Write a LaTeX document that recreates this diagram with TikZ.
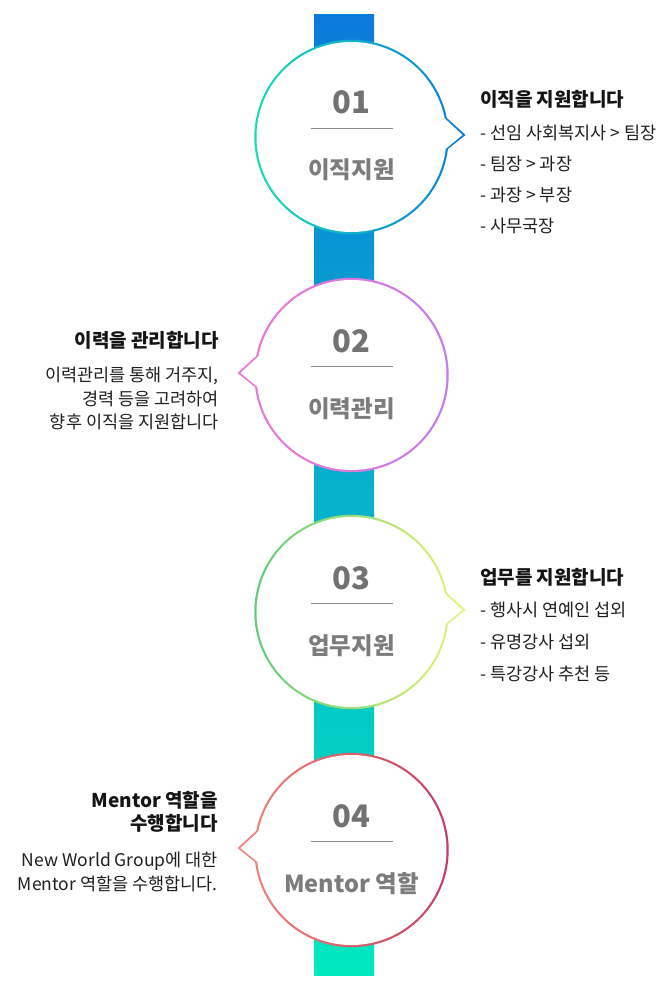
\documentclass[tikz,border=0pt]{standalone}
\usepackage{fontspec}
\setmainfont{Noto Sans CJK KR}
\usepackage{tikz}
\definecolor{barTop}{HTML}{0B7BDA}
\definecolor{barMid}{HTML}{00AACE}
\definecolor{barBot}{HTML}{00E9BF}
\definecolor{oneL}{HTML}{18E0B6}
\definecolor{oneR}{HTML}{0A7CDB}
\definecolor{twoL}{HTML}{EE78CF}
\definecolor{twoR}{HTML}{C47AEE}
\definecolor{threeL}{HTML}{5CCB78}
\definecolor{threeR}{HTML}{E8F47A}
\definecolor{fourL}{HTML}{F4887A}
\definecolor{fourR}{HTML}{C23A62}
\definecolor{numGray}{HTML}{727272}
\definecolor{labGray}{HTML}{7C7C7C}
\definecolor{sepGray}{HTML}{8C8C8C}
\tikzset{
	x=1pt,
	y=-1pt,
	num/.style={font=\fontsize{31}{31}\selectfont\bfseries, text=numGray, inner sep=0pt},
	lab/.style={font=\fontsize{23.5}{23.5}\selectfont\bfseries, text=labGray, inner sep=0pt},
	sep/.style={draw=sepGray, line width=1pt},
	title/.style={font=\fontsize{19}{19}\selectfont\bfseries, text=black!92, inner sep=0pt},
	item/.style={font=\fontsize{17.5}{17.5}\selectfont, text=black!88, inner sep=0pt}
}
\begin{document}
\begin{tikzpicture}
  \fill[white] (0,0) rectangle (668,1000);
  \useasboundingbox (0,0) rectangle (668,1000);

  % the bar behind the bubbles
  \coordinate (barA) at (314,15);
  \coordinate (barB) at (374,975);
  \shade[top color=barTop, middle color=barMid, bottom color=barBot] (barA) rectangle (barB);

  % bubbles: \s=1 tail to the right, \s=-1 tail to the left
  \foreach \cy/\s/\lc/\rc/\nm/\lb [count=\n] in {
      137/1/oneL/oneR/01/이직지원,
      375/-1/twoL/twoR/02/이력관리,
      612/1/threeL/threeR/03/업무지원,
      850/-1/fourL/fourR/04/Mentor 역할}
  {
    \pgfmathsetmacro\dir{90-90*\s}
    \pgfmathsetmacro\up{\dir-\s*11.3}
    \pgfmathsetmacro\lo{\dir+\s*7.1}
    \pgfmathsetmacro\en{\up+\s*360}
    \coordinate (c\n) at (351.5,\cy);
    \shade[left color=\lc, right color=\rc]
      ([shift={(c\n)}]\up:97.2) -- ([shift={(c\n)}]\s*114,-2)
      -- ([shift={(c\n)}]\lo:97.2) arc[start angle=\lo, end angle=\en, radius=97.2] -- cycle;
    \fill[white]
      ([shift={(c\n)}]\up:95) -- ([shift={(c\n)}]\s*111,-2)
      -- ([shift={(c\n)}]\lo:95) arc[start angle=\lo, end angle=\en, radius=95] -- cycle;
    \node[num, anchor=base] (num\n) at (351.5,\cy-23) {\nm};
    \coordinate (sepA\n) at (310.5,\cy-8.5);
    \coordinate (sepB\n) at (392.5,\cy-8.5);
    \draw[sep] (sepA\n) -- (sepB\n);
    \node[lab, anchor=base] (lab\n) at (351.5,\cy+42) {\lb};
  }

  % 01
  \node[title, anchor=base west] (title1) at (480,107) {이직을 지원합니다};
  \foreach \t [count=\k] in {- 선임 사회복지사 > 팀장, - 팀장 > 과장, - 과장 > 부장, - 사무국장}
    \node[item, anchor=base west] (item1-\k) at (480,108.5+31*\k) {\t};

  % 02
  \node[title, anchor=base east] (title2) at (219,347) {이력을 관리합니다};
  \foreach \t [count=\k] in {{이력관리를 통해 거주지,}, 경력 등을 고려하여, 향후 이직을 지원합니다}
    \node[item, anchor=base east] (item2-\k) at (219,358+23.5*\k) {\t};

  % 03
  \node[title, anchor=base west] (title3) at (480,584) {업무를 지원합니다};
  \foreach \t [count=\k] in {- 행사시 연예인 섭외, - 유명강사 섭외, - 특강강사 추천 등}
    \node[item, anchor=base west] (item3-\k) at (480,584.5+32*\k) {\t};

  % 04
  \node[title, anchor=base east] (title4a) at (218,807) {Mentor 역할을};
  \node[title, anchor=base east] (title4b) at (218,830) {수행합니다};
  \node[item, anchor=base east] (item4-1) at (218,866.5) {New World Group에 대한};
  \node[item, anchor=base east] (item4-2) at (218,890.5) {Mentor 역할을 수행합니다.};
\end{tikzpicture}
\end{document}
